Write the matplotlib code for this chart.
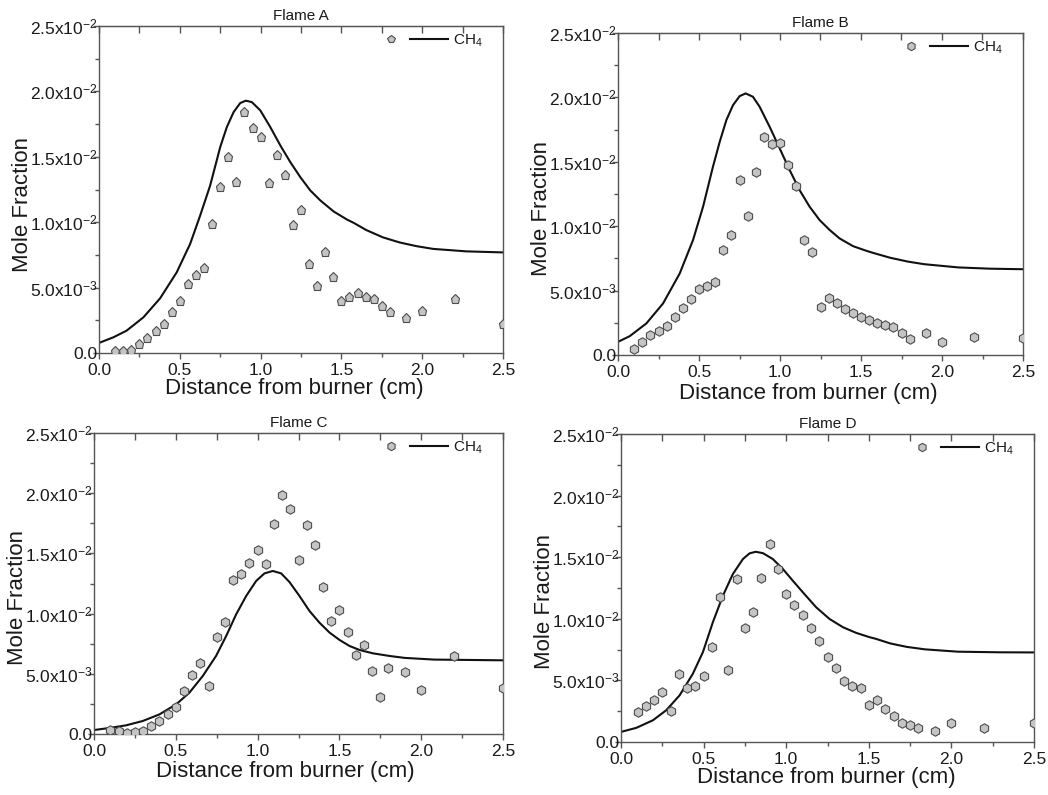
import matplotlib
matplotlib.use("Agg")
import matplotlib.pyplot as plt
from matplotlib.lines import Line2D
from matplotlib.legend_handler import HandlerTuple
from matplotlib.ticker import FixedLocator, MultipleLocator, FuncFormatter

plt.rcParams['font.family'] = ['Liberation Sans', 'DejaVu Sans']
plt.rcParams['mathtext.fontset'] = 'custom'
plt.rcParams['mathtext.rm'] = 'Liberation Sans'
plt.rcParams['mathtext.default'] = 'regular'

# ---------------- measured CH4 mole fractions (symbols) ----------------
x_meas = [0.10, 0.15, 0.20, 0.25, 0.30, 0.35, 0.40, 0.45, 0.50, 0.55, 0.60, 0.65,
          0.70, 0.75, 0.80, 0.85, 0.90, 0.95, 1.00, 1.05, 1.10, 1.15, 1.20, 1.25,
          1.30, 1.35, 1.40, 1.45, 1.50, 1.55, 1.60, 1.65, 1.70, 1.75, 1.80, 1.90,
          2.00, 2.20, 2.50]

y_meas_A = [0.00013, 0.00018, 0.00020, 0.00070, 0.00115, 0.00165, 0.00224, 0.00310,
            0.00400, 0.00530, 0.00600, 0.00650, 0.00990, 0.01270, 0.01500, 0.01310,
            0.01840, 0.01720, 0.01650, 0.01300, 0.01510, 0.01360, 0.00980, 0.01090,
            0.00680, 0.00510, 0.00770, 0.00580, 0.00400, 0.00430, 0.00460, 0.00430,
            0.00410, 0.00360, 0.00310, 0.00270, 0.00320, 0.00410, 0.00220]

y_meas_B = [0.00046, 0.00100, 0.00152, 0.00189, 0.00227, 0.00292, 0.00362, 0.00436,
            0.00514, 0.00537, 0.00566, 0.00816, 0.00930, 0.01358, 0.01077, 0.01420,
            0.01689, 0.01637, 0.01648, 0.01477, 0.01312, 0.00894, 0.00800, 0.00372,
            0.00442, 0.00400, 0.00356, 0.00325, 0.00294, 0.00269, 0.00248, 0.00232,
            0.00214, 0.00168, 0.00121, 0.00168, 0.00101, 0.00139, 0.00134]

y_meas_C = [0.00036, 0.00022, 0.00008, 0.00017, 0.00022, 0.00066, 0.00111, 0.00166,
            0.00221, 0.00354, 0.00493, 0.00587, 0.00396, 0.00808, 0.00930, 0.01279,
            0.01326, 0.01417, 0.01528, 0.01412, 0.01744, 0.01982, 0.01866, 0.01442,
            0.01739, 0.01573, 0.01224, 0.00939, 0.01027, 0.00844, 0.00659, 0.00736,
            0.00520, 0.00310, 0.00551, 0.00515, 0.00368, 0.00651, 0.00379]

y_meas_D = [0.00245, 0.00289, 0.00338, 0.00403, 0.00251, 0.00549, 0.00435, 0.00454,
            0.00535, 0.00770, 0.01178, 0.00581, 0.01327, 0.00924, 0.01057, 0.01332,
            0.01608, 0.01403, 0.01200, 0.01116, 0.01027, 0.00922, 0.00822, 0.00686,
            0.00600, 0.00497, 0.00451, 0.00435, 0.00300, 0.00343, 0.00268, 0.00214,
            0.00154, 0.00135, 0.00111, 0.00089, 0.00151, 0.00111, 0.00151]

# ---------------- computed CH4 profiles (lines) ----------------
x_sim_A = [0.000, 0.089, 0.171, 0.275, 0.378, 0.481, 0.564, 0.626, 0.688, 0.750,
           0.791, 0.833, 0.874, 0.909, 0.946, 0.998, 1.060, 1.122, 1.184, 1.246,
           1.308, 1.370, 1.452, 1.535, 1.576, 1.654, 1.757, 1.861, 1.964, 2.067,
           2.273, 2.500]
y_sim_A = [0.00077, 0.00120, 0.00171, 0.00273, 0.00418, 0.00617, 0.00834, 0.01051,
           0.01281, 0.01574, 0.01727, 0.01842, 0.01911, 0.01929, 0.01918, 0.01855,
           0.01727, 0.01587, 0.01459, 0.01344, 0.01242, 0.01166, 0.01082, 0.01020,
           0.00995, 0.00940, 0.00884, 0.00845, 0.00817, 0.00796, 0.00777, 0.00769]

x_sim_B = [0.000, 0.072, 0.175, 0.278, 0.381, 0.463, 0.525, 0.586, 0.628, 0.669,
           0.710, 0.751, 0.788, 0.833, 0.874, 0.936, 0.998, 1.060, 1.121, 1.183,
           1.245, 1.307, 1.368, 1.451, 1.533, 1.574, 1.680, 1.790, 1.890, 2.100,
           2.300, 2.500]
y_sim_B = [0.00102, 0.00146, 0.00245, 0.00400, 0.00633, 0.00892, 0.01151, 0.01461,
           0.01656, 0.01824, 0.01940, 0.02010, 0.02031, 0.02005, 0.01928, 0.01772,
           0.01604, 0.01435, 0.01280, 0.01151, 0.01047, 0.00970, 0.00905, 0.00845,
           0.00809, 0.00793, 0.00755, 0.00725, 0.00705, 0.00680, 0.00670, 0.00666]

x_sim_C = [0.000, 0.094, 0.196, 0.298, 0.400, 0.502, 0.583, 0.665, 0.746, 0.808,
           0.869, 0.930, 0.991, 1.042, 1.093, 1.144, 1.195, 1.256, 1.317, 1.378,
           1.440, 1.501, 1.562, 1.623, 1.705, 1.807, 1.900, 2.080, 2.500]
y_sim_C = [0.00033, 0.00050, 0.00072, 0.00108, 0.00163, 0.00246, 0.00343, 0.00482,
           0.00648, 0.00814, 0.00994, 0.01146, 0.01271, 0.01334, 0.01354, 0.01334,
           0.01262, 0.01146, 0.01022, 0.00925, 0.00842, 0.00781, 0.00731, 0.00698,
           0.00670, 0.00648, 0.00632, 0.00618, 0.00612]

x_sim_D = [0.000, 0.093, 0.194, 0.274, 0.355, 0.435, 0.496, 0.556, 0.617, 0.677,
           0.738, 0.778, 0.815, 0.859, 0.919, 0.980, 1.040, 1.101, 1.181, 1.262,
           1.343, 1.423, 1.504, 1.544, 1.630, 1.730, 1.840, 2.040, 2.300, 2.500]
y_sim_D = [0.00082, 0.00115, 0.00177, 0.00258, 0.00379, 0.00554, 0.00730, 0.00972,
           0.01188, 0.01363, 0.01485, 0.01531, 0.01544, 0.01533, 0.01485, 0.01404,
           0.01309, 0.01215, 0.01094, 0.00999, 0.00932, 0.00886, 0.00851, 0.00837,
           0.00800, 0.00772, 0.00752, 0.00733, 0.00728, 0.00727]

titles = ['Flame A', 'Flame B', 'Flame C', 'Flame D']
markers = ['p', 'h', 'h', 'h']
legend_label = r'CH$_4$'
x_label = 'Distance from burner (cm)'
y_label = 'Mole Fraction'
y_ticks = [0.0, 0.005, 0.010, 0.015, 0.020, 0.025]

W, H = 1048, 795
# axes rectangles in pixels: left, top, right, bottom
rects_px = [(99, 26, 503, 353), (618, 33, 1023, 355),
            (94, 433, 503, 734), (621, 434, 1034, 742)]
# horizontal centre of each x-axis title, in axes fractions
xlabel_pos = [0.483, 0.470, 0.467, 0.496]
xlabel_pad = [0, 2, 2, 0]

SPINE = '#555555'
TEXT = '#1a1a1a'
FACE = '#c4c4c4'
EDGE = '#4d4d4d'


def y_fmt(v, pos):
    if abs(v) < 1e-12:
        return '0.0'
    exp = 0
    m = v
    while m < 1.0:
        m *= 10
        exp -= 1
    return r'%.1fx10$^{\mathregular{%d}}$' % (m, exp)


fig = plt.figure(figsize=(W / 100, H / 100), dpi=100)

panels = [(x_meas, y_meas_A, x_sim_A, y_sim_A),
          (x_meas, y_meas_B, x_sim_B, y_sim_B),
          (x_meas, y_meas_C, x_sim_C, y_sim_C),
          (x_meas, y_meas_D, x_sim_D, y_sim_D)]

for i, (xm, ym, xs, ys) in enumerate(panels):
    l, t, r, b = rects_px[i]
    ax = fig.add_axes([l / W, 1 - b / H, (r - l) / W, (b - t) / H])
    ax.plot(xs, ys, color='#111111', lw=1.5, zorder=2)
    ax.plot(xm, ym, ls='none', marker=markers[i], ms=6.8, mfc=FACE, mec=EDGE,
            mew=0.8, zorder=3)
    ax.set_xlim(0, 2.5)
    ax.set_ylim(0, 0.025)

    ax.xaxis.set_major_locator(MultipleLocator(0.5))
    ax.xaxis.set_minor_locator(MultipleLocator(0.25))
    ax.xaxis.set_major_formatter(FuncFormatter(lambda v, p: '%.1f' % v))
    ax.yaxis.set_major_locator(FixedLocator(y_ticks))
    ax.yaxis.set_minor_locator(MultipleLocator(0.0025))
    ax.yaxis.set_major_formatter(FuncFormatter(y_fmt))

    ax.tick_params(axis='both', which='major', direction='out', length=4,
                   width=1, color=SPINE, labelsize=12.5, labelcolor=TEXT)
    ax.tick_params(axis='x', which='major', pad=3)
    ax.tick_params(axis='y', which='major', pad=-3)
    ax.tick_params(axis='both', which='minor', direction='out', length=3,
                   width=1, color=SPINE)
    ax.tick_params(axis='x', which='both', top=False)
    ax.tick_params(axis='y', which='both', right=False)

    # inward ticks along the upper edge
    top = ax.secondary_xaxis('top')
    top.xaxis.set_major_locator(MultipleLocator(0.5))
    top.xaxis.set_minor_locator(MultipleLocator(0.25))
    top.tick_params(axis='x', which='both', direction='in', length=5, width=1,
                    color=SPINE, labeltop=False)
    top.spines['top'].set_color(SPINE)

    for s in ax.spines.values():
        s.set_color(SPINE)
        s.set_linewidth(1.0)

    ax.set_title(titles[i], fontsize=11, color=TEXT, pad=4)
    ax.set_xlabel(x_label, fontsize=16, color=TEXT, labelpad=xlabel_pad[i],
                  x=xlabel_pos[i])
    ax.set_ylabel(y_label, fontsize=16, color=TEXT, labelpad=-2.5, y=0.455)

    mk = Line2D([], [], ls='none', marker=markers[i], ms=6, mfc=FACE, mec=EDGE,
                mew=0.8)
    ln = Line2D([], [], color='#111111', lw=1.5)
    ax.legend([(mk, ln)], [legend_label],
              handler_map={tuple: HandlerTuple(ndivide=None, pad=0.0)},
              handlelength=5.0, handletextpad=0.3, frameon=False,
              loc='upper right', bbox_to_anchor=(0.965, 1.0), borderaxespad=0,
              fontsize=11, labelcolor=TEXT)

fig.savefig('out.png', dpi=100)
